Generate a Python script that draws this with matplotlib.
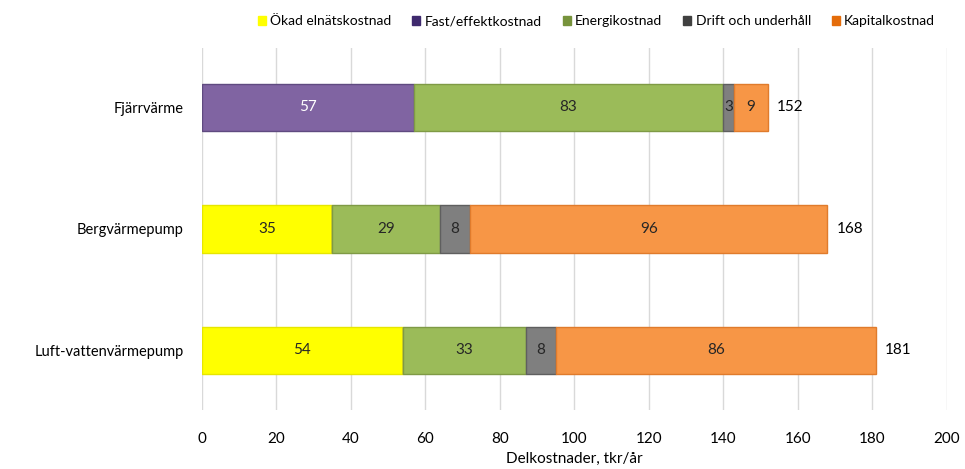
import numpy as np
import matplotlib.pyplot as plt

plt.rcParams['font.family'] = ['Lato', 'DejaVu Sans']

categories = ['Fjärrvärme', 'Bergvärmepump', 'Luft-vattenvärmepump']
series = ['Ökad elnätskostnad', 'Fast/effektkostnad', 'Energikostnad',
          'Drift och underhåll', 'Kapitalkostnad']
elnat = [0, 35, 54]
fast = [57, 0, 0]
energi = [83, 29, 33]
drift = [3, 8, 8]
kapital = [9, 96, 86]
values = [elnat, fast, energi, drift, kapital]

fills = ['#ffff00', '#8064a2', '#9bbb59', '#7f7f7f', '#f79646']
edges = ['#e6e600', '#5f4a80', '#7f9a45', '#5f5f5f', '#e07b2c']
legend_colors = ['#ffff00', '#3f2a6e', '#77933c', '#404040', '#e46c0a']
label_colors = ['#262626', '#ffffff', '#262626', '#262626', '#262626']

fig = plt.figure(figsize=(9.65, 4.69), dpi=100)
ax = fig.add_axes([0.209, 0.126, 0.772, 0.772])

y = np.arange(len(categories))
left = np.zeros(len(categories))
for vals, fc, ec, lc in zip(values, fills, edges, label_colors):
    vals = np.array(vals, dtype=float)
    bars = ax.barh(y, vals, left=left, height=0.39, color=fc,
                   edgecolor=ec, linewidth=1.0, zorder=3)
    for b, v in zip(bars, vals):
        if v > 0:
            ax.text(b.get_x() + b.get_width() / 2, b.get_y() + b.get_height() / 2,
                    f'{v:.0f}', ha='center', va='center', fontsize=11,
                    color=lc, zorder=4)
    left += vals

# totals at the end of each bar
for yi, tot in zip(y, left):
    ax.text(tot + 2.5, yi, f'{tot:.0f}', ha='left', va='center',
            fontsize=11, color='#000000')

ax.set_xlim(0, 200)
ax.set_ylim(2.49, -0.49)
ax.set_xticks(range(0, 201, 20))
ax.set_yticks(y)
ax.set_yticklabels(categories)
ax.tick_params(axis='x', length=0, labelsize=11, colors='#000000', pad=16)
ax.tick_params(axis='y', length=0, labelsize=10.5, colors='#000000', pad=13)
ax.grid(axis='x', color='#d9d9d9', linewidth=1.0, zorder=0)
for s in ax.spines.values():
    s.set_visible(False)
ax.set_xlabel('Delkostnader, tkr/år', fontsize=11, labelpad=4)

handles = [plt.Rectangle((0, 0), 1, 1, color=c) for c in legend_colors]
fig.legend(handles, series, loc='center', bbox_to_anchor=(0.618, 0.955),
           ncol=5, frameon=False, fontsize=10, handlelength=0.6,
           handleheight=0.6, handletextpad=0.3, columnspacing=1.5)

fig.savefig('out.png', dpi=100)
